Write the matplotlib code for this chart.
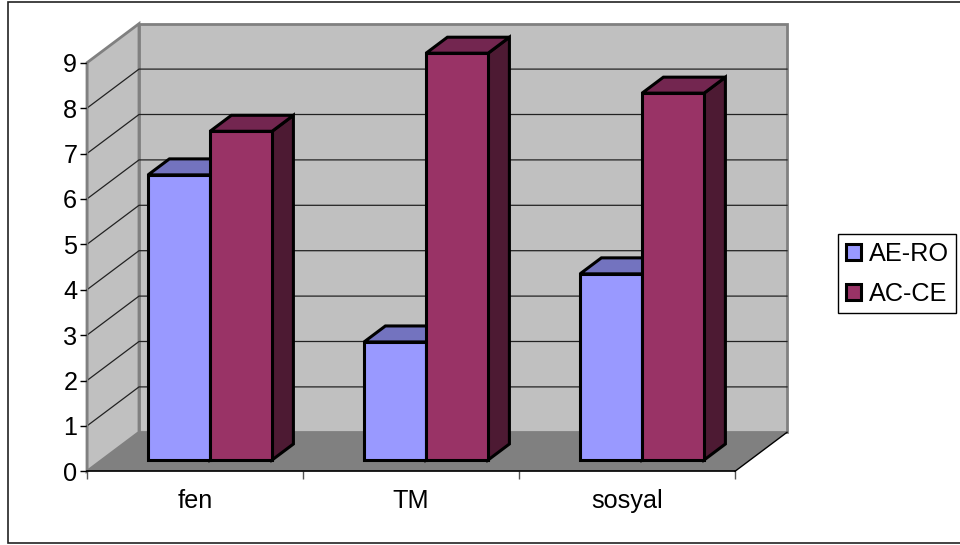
import matplotlib
matplotlib.use('Agg')
import matplotlib.pyplot as plt
import numpy as np
from matplotlib.patches import Patch, Polygon, Rectangle

categories = ['fen', 'TM', 'sosyal']
ae_ro = [6.28, 2.6, 4.1]
ac_ce = [7.24, 8.96, 8.08]
y_ticks = [0, 1, 2, 3, 4, 5, 6, 7, 8, 9]

plt.rcParams['font.family'] = ['Liberation Sans', 'DejaVu Sans']
FS = 18.2

# fake 3d box: how far the back wall sits from the front, in data units
depth_x = 52 / 216
depth_y = 39 / 45.4
# bars stand part way into the box
bar_start = 0.29
bar_depth = 0.41
bar_w = 62 / 216


def poly(ax, pts, face, edge='black', lw=2.2, z=3):
    ax.add_patch(Polygon(pts, closed=True, facecolor=face, edgecolor=edge, linewidth=lw,
                         joinstyle='miter', zorder=z, clip_on=False))


def draw_walls(ax, n, top):
    poly(ax, [(0, 0), (depth_x, depth_y), (depth_x, top + depth_y), (0, top)], '#c0c0c0', '#808080', 2.0, 1)
    poly(ax, [(depth_x, depth_y), (n + depth_x, depth_y), (n + depth_x, top + depth_y), (depth_x, top + depth_y)],
         '#c0c0c0', '#808080', 2.0, 1)
    poly(ax, [(0, 0), (n, 0), (n + depth_x, depth_y), (depth_x, depth_y)], '#808080', 'none', 0, 1.5)
    ax.plot([n, n + depth_x], [0, depth_y], color='black', lw=1.0, zorder=2, clip_on=False)
    for v in y_ticks[1:-1]:
        ax.plot([0, depth_x, n + depth_x], [v, v + depth_y, v + depth_y], color='#222222', lw=0.9, zorder=1.8,
                clip_on=False)


def draw_bar(ax, x, v, face, top_c, side_c):
    x0 = x + bar_start * depth_x
    y0 = bar_start * depth_y
    dx = bar_depth * depth_x
    dy = bar_depth * depth_y
    # side, then top, then the front face from ax.bar
    poly(ax, [(x0 + bar_w, y0), (x0 + bar_w + dx, y0 + dy), (x0 + bar_w + dx, y0 + v + dy), (x0 + bar_w, y0 + v)], side_c)
    poly(ax, [(x0, y0 + v), (x0 + dx, y0 + v + dy), (x0 + bar_w + dx, y0 + v + dy), (x0 + bar_w, y0 + v)], top_c)
    ax.bar(x0, v, bar_w, bottom=y0, align='edge', color=face, edgecolor='black', linewidth=2.2, zorder=3,
           clip_on=False)


fig = plt.figure(figsize=(9.6, 5.45), dpi=100)
fig.patches.append(Rectangle((8 / 960, 2.5 / 545), 1.2, 541 / 545, transform=fig.transFigure, facecolor='white',
                             edgecolor='#222222', linewidth=1.2, zorder=-1))
ax = fig.add_axes([87 / 960, (545 - 471.3) / 545, 648 / 960, 408.6 / 545])
ax.patch.set_visible(False)
ax.set_xlim(0, 3)
ax.set_ylim(0, 9)

draw_walls(ax, len(categories), y_ticks[-1])

ind = np.arange(len(categories))
gap = (1 - 2 * bar_w) / 2
for i in ind:
    draw_bar(ax, i + gap, ae_ro[i], '#9999ff', '#7373bf', '#5c5c99')
    draw_bar(ax, i + gap + bar_w, ac_ce[i], '#993366', '#732650', '#4d1a33')

for s in ['top', 'right']:
    ax.spines[s].set_visible(False)
ax.spines['left'].set_color('#808080')
ax.spines['left'].set_linewidth(1.0)
ax.spines['bottom'].set_color('black')
ax.spines['bottom'].set_linewidth(1.2)
ax.spines['bottom'].set_zorder(2.5)

ax.set_yticks(y_ticks)
ax.tick_params(axis='y', length=5, width=1.0, color='black', labelsize=FS, pad=2)
ax.set_xticks(np.arange(len(categories) + 1))
ax.set_xticklabels([])
ax.tick_params(axis='x', which='major', length=5.5, width=1.0, color='#555555')
ax.set_xticks(ind + 0.5, minor=True)
ax.set_xticklabels(categories, minor=True)
ax.tick_params(axis='x', which='minor', length=0, labelsize=FS, pad=13)

handles = [Patch(facecolor='#9999ff', edgecolor='black', linewidth=2.2),
           Patch(facecolor='#993366', edgecolor='black', linewidth=2.2)]
leg = fig.legend(handles, ['AE-RO', 'AC-CE'], loc='upper left', bbox_to_anchor=(838 / 960, 1 - 234 / 545),
                 borderaxespad=0, fontsize=FS, fancybox=False, framealpha=1, edgecolor='black', borderpad=0.31,
                 handlelength=0.6, handleheight=0.6, handletextpad=0.3, labelspacing=0.62)
leg.get_frame().set_linewidth(1.0)

fig.savefig('out.png', dpi=100)
